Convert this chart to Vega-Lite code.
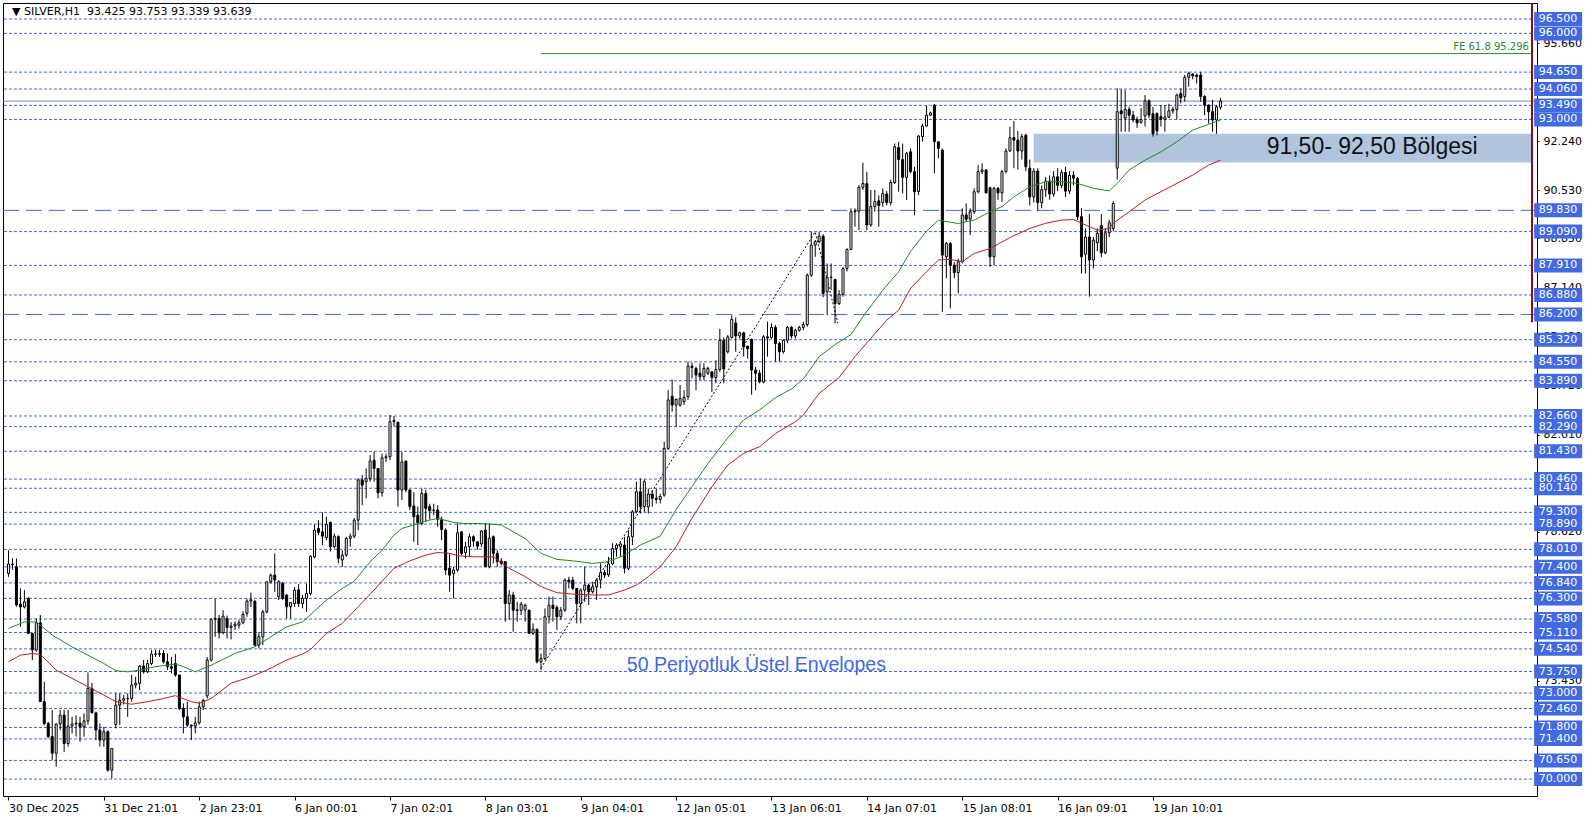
{
"$schema":"https://vega.github.io/schema/vega-lite/v6.json",
"width":1534,"height":793,
"autosize":{"type":"none"},
"padding":{"left":3,"top":3,"right":57,"bottom":24},
"background":"white",
"config":{"view":{"stroke":"black","strokeWidth":1},"font":"DejaVu Sans"},
"resolve":{"axis":{"x":"independent","y":"independent"}},
"datasets":{
"bars":[
{"i":0,"o":77.17,"h":77.98,"l":77.05,"c":77.5},{"i":1,"o":77.5,"h":77.7,"l":77.3,"c":77.48},{"i":2,"o":77.4,"h":77.69,"l":76.01,"c":76.07},{"i":3,"o":76.1,"h":76.65,"l":75.31,"c":76.0},{"i":4,"o":76.0,"h":76.59,"l":75.95,"c":76.18},
{"i":5,"o":76.3,"h":76.35,"l":75.08,"c":75.08},{"i":6,"o":75.08,"h":75.1,"l":74.15,"c":74.5},{"i":7,"o":74.5,"h":75.6,"l":74.44,"c":75.45},{"i":8,"o":75.45,"h":75.72,"l":72.7,"c":72.7},{"i":9,"o":72.7,"h":73.39,"l":71.88,"c":71.94},
{"i":10,"o":71.94,"h":72.0,"l":71.42,"c":71.48},{"i":11,"o":71.48,"h":72.41,"l":70.66,"c":70.9},{"i":12,"o":70.9,"h":71.94,"l":70.43,"c":71.92},{"i":13,"o":71.92,"h":72.41,"l":71.71,"c":72.23},{"i":14,"o":72.23,"h":72.41,"l":70.95,"c":71.24},
{"i":15,"o":71.24,"h":72.41,"l":71.13,"c":71.85},{"i":16,"o":71.85,"h":72.17,"l":71.59,"c":71.92},{"i":17,"o":71.92,"h":72.23,"l":71.48,"c":71.95},{"i":18,"o":71.95,"h":72.17,"l":71.3,"c":71.82},{"i":19,"o":71.82,"h":72.29,"l":71.48,"c":72.03},
{"i":20,"o":72.03,"h":73.72,"l":71.9,"c":73.16},{"i":21,"o":73.16,"h":73.36,"l":72.29,"c":72.31},{"i":22,"o":72.31,"h":72.35,"l":71.36,"c":71.71},{"i":23,"o":71.71,"h":71.94,"l":71.13,"c":71.36},{"i":24,"o":71.36,"h":71.82,"l":71.13,"c":71.65},
{"i":25,"o":71.65,"h":71.7,"l":70.26,"c":70.31},{"i":26,"o":70.31,"h":71.07,"l":70.02,"c":71.07},{"i":27,"o":71.9,"h":72.99,"l":71.77,"c":72.58},{"i":28,"o":72.58,"h":72.99,"l":71.88,"c":72.75},{"i":29,"o":72.75,"h":72.93,"l":72.6,"c":72.8},
{"i":30,"o":72.8,"h":72.99,"l":72.17,"c":72.81},{"i":31,"o":72.81,"h":73.63,"l":72.7,"c":73.28},{"i":32,"o":73.28,"h":73.57,"l":73.16,"c":73.34},{"i":33,"o":73.34,"h":73.97,"l":73.1,"c":73.94},{"i":34,"o":73.94,"h":74.15,"l":73.68,"c":73.74},
{"i":35,"o":73.74,"h":74.15,"l":73.7,"c":74.03},{"i":36,"o":74.03,"h":74.5,"l":73.97,"c":74.36},{"i":37,"o":74.36,"h":74.5,"l":74.26,"c":74.35},{"i":38,"o":74.35,"h":74.5,"l":74.26,"c":74.38},{"i":39,"o":74.38,"h":74.5,"l":74.03,"c":74.09},
{"i":40,"o":74.09,"h":74.38,"l":73.8,"c":73.92},{"i":41,"o":73.92,"h":74.26,"l":73.68,"c":73.86},{"i":42,"o":74.03,"h":74.36,"l":73.57,"c":73.63},{"i":43,"o":73.63,"h":73.63,"l":72.41,"c":72.46},{"i":44,"o":72.46,"h":72.64,"l":71.59,"c":72.17},
{"i":45,"o":72.17,"h":72.7,"l":71.82,"c":71.88},{"i":46,"o":71.88,"h":71.9,"l":71.36,"c":71.85},{"i":47,"o":71.85,"h":72.17,"l":71.6,"c":71.96},{"i":48,"o":71.96,"h":72.7,"l":71.9,"c":72.52},{"i":49,"o":72.52,"h":72.8,"l":72.41,"c":72.75},
{"i":50,"o":72.9,"h":74.26,"l":72.81,"c":74.15},{"i":51,"o":74.15,"h":75.6,"l":74.1,"c":75.57},{"i":52,"o":75.57,"h":76.28,"l":74.96,"c":75.6},{"i":53,"o":75.6,"h":75.72,"l":74.9,"c":75.1},{"i":54,"o":75.1,"h":75.89,"l":75.05,"c":75.68},
{"i":55,"o":75.6,"h":75.7,"l":74.9,"c":75.29},{"i":56,"o":75.29,"h":75.48,"l":74.87,"c":75.34},{"i":57,"o":75.34,"h":75.5,"l":75.2,"c":75.4},{"i":58,"o":75.37,"h":75.55,"l":75.25,"c":75.45},{"i":59,"o":75.45,"h":75.85,"l":75.4,"c":75.74},
{"i":60,"o":75.78,"h":76.28,"l":75.66,"c":76.21},{"i":61,"o":76.21,"h":76.5,"l":76.0,"c":76.25},{"i":62,"o":76.2,"h":76.25,"l":74.64,"c":74.67},{"i":63,"o":74.67,"h":75.12,"l":74.56,"c":74.96},{"i":64,"o":74.96,"h":75.9,"l":74.67,"c":75.83},
{"i":65,"o":75.83,"h":76.88,"l":75.78,"c":76.88},{"i":66,"o":76.88,"h":77.17,"l":76.82,"c":77.11},{"i":67,"o":77.11,"h":77.87,"l":76.53,"c":76.94},{"i":68,"o":76.36,"h":76.94,"l":76.24,"c":76.88},{"i":69,"o":76.82,"h":76.88,"l":76.24,"c":76.3},
{"i":70,"o":76.42,"h":76.42,"l":75.6,"c":76.01},{"i":71,"o":76.01,"h":76.18,"l":75.6,"c":76.15},{"i":72,"o":76.12,"h":76.7,"l":76.0,"c":76.59},{"i":73,"o":76.6,"h":76.8,"l":76.0,"c":76.12},{"i":74,"o":76.12,"h":76.42,"l":75.95,"c":76.3},
{"i":75,"o":76.3,"h":76.82,"l":75.83,"c":76.47},{"i":76,"o":76.47,"h":77.8,"l":76.4,"c":77.77},{"i":77,"o":77.75,"h":78.88,"l":77.7,"c":78.68},{"i":78,"o":78.74,"h":79.03,"l":78.5,"c":78.6},{"i":79,"o":78.62,"h":79.3,"l":78.16,"c":78.47},
{"i":80,"o":78.42,"h":79.15,"l":78.33,"c":78.88},{"i":81,"o":78.95,"h":78.97,"l":77.93,"c":78.1},{"i":82,"o":78.1,"h":78.56,"l":78.04,"c":78.47},{"i":83,"o":78.45,"h":78.5,"l":77.52,"c":77.69},{"i":84,"o":77.64,"h":77.98,"l":77.4,"c":77.81},
{"i":85,"o":77.81,"h":78.45,"l":77.75,"c":78.39},{"i":86,"o":78.39,"h":78.56,"l":78.1,"c":78.47},{"i":87,"o":78.47,"h":79.1,"l":78.4,"c":79.03},{"i":88,"o":79.03,"h":80.48,"l":78.68,"c":80.43},{"i":89,"o":80.43,"h":80.6,"l":79.55,"c":80.25},
{"i":90,"o":80.37,"h":80.83,"l":79.79,"c":80.48},{"i":91,"o":80.48,"h":81.3,"l":80.37,"c":81.09},{"i":92,"o":81.12,"h":81.41,"l":80.37,"c":80.83},{"i":93,"o":80.83,"h":80.83,"l":79.79,"c":79.98},{"i":94,"o":79.98,"h":81.35,"l":79.85,"c":81.2},
{"i":95,"o":81.2,"h":81.35,"l":81.05,"c":81.24},{"i":96,"o":81.24,"h":82.69,"l":81.12,"c":82.46},{"i":97,"o":82.46,"h":82.66,"l":82.31,"c":82.5},{"i":98,"o":82.44,"h":82.46,"l":79.5,"c":80.08},{"i":99,"o":80.08,"h":81.41,"l":79.73,"c":81.06},
{"i":100,"o":81.09,"h":81.1,"l":80.0,"c":80.08},{"i":101,"o":80.08,"h":80.1,"l":79.38,"c":79.5},{"i":102,"o":79.52,"h":80.0,"l":78.27,"c":79.15},{"i":103,"o":79.2,"h":79.5,"l":78.16,"c":78.94},{"i":104,"o":78.91,"h":80.13,"l":78.85,"c":79.96},
{"i":105,"o":79.96,"h":80.08,"l":78.97,"c":79.44},{"i":106,"o":79.5,"h":79.6,"l":79.05,"c":79.35},{"i":107,"o":79.38,"h":79.6,"l":79.2,"c":79.36},{"i":108,"o":79.38,"h":79.55,"l":78.8,"c":79.06},{"i":109,"o":79.06,"h":79.15,"l":78.33,"c":78.7},
{"i":110,"o":78.68,"h":78.74,"l":77.11,"c":77.29},{"i":111,"o":77.35,"h":77.87,"l":76.53,"c":77.11},{"i":112,"o":77.17,"h":77.4,"l":76.3,"c":77.29},{"i":113,"o":77.29,"h":78.91,"l":77.23,"c":78.59},{"i":114,"o":78.62,"h":78.65,"l":77.81,"c":77.87},
{"i":115,"o":77.9,"h":78.27,"l":77.7,"c":78.1},{"i":116,"o":78.1,"h":78.56,"l":77.75,"c":78.45},{"i":117,"o":78.45,"h":78.5,"l":78.1,"c":78.3},{"i":118,"o":78.27,"h":78.3,"l":78.0,"c":78.12},{"i":119,"o":78.2,"h":78.68,"l":78.1,"c":78.65},
{"i":120,"o":78.68,"h":78.91,"l":77.4,"c":77.4},{"i":121,"o":77.4,"h":78.91,"l":77.35,"c":78.4},{"i":122,"o":78.45,"h":78.5,"l":77.52,"c":77.87},{"i":123,"o":77.87,"h":77.98,"l":77.4,"c":77.58},{"i":124,"o":77.6,"h":77.7,"l":77.45,"c":77.52},
{"i":125,"o":77.58,"h":77.6,"l":75.49,"c":76.12},{"i":126,"o":76.12,"h":76.59,"l":75.55,"c":76.42},{"i":127,"o":76.42,"h":76.53,"l":75.14,"c":75.89},{"i":128,"o":75.9,"h":76.18,"l":75.49,"c":75.88},{"i":129,"o":75.88,"h":76.18,"l":75.72,"c":76.1},
{"i":130,"o":75.9,"h":76.12,"l":75.49,"c":76.06},{"i":131,"o":75.89,"h":75.9,"l":75.08,"c":75.08},{"i":132,"o":75.08,"h":75.43,"l":75.02,"c":75.22},{"i":133,"o":75.22,"h":75.25,"l":74.03,"c":74.09},{"i":134,"o":74.09,"h":74.38,"l":73.8,"c":74.2},
{"i":135,"o":74.2,"h":75.95,"l":74.15,"c":75.66},{"i":136,"o":75.66,"h":76.36,"l":75.43,"c":76.06},{"i":137,"o":76.06,"h":76.36,"l":75.49,"c":75.95},{"i":138,"o":75.99,"h":76.06,"l":75.2,"c":75.66},{"i":139,"o":75.66,"h":76.0,"l":75.55,"c":75.89},
{"i":140,"o":75.89,"h":77.0,"l":75.83,"c":76.94},{"i":141,"o":76.94,"h":77.05,"l":76.65,"c":76.88},{"i":142,"o":76.94,"h":77.05,"l":76.59,"c":76.65},{"i":143,"o":76.65,"h":76.65,"l":75.43,"c":76.12},{"i":144,"o":76.12,"h":76.65,"l":75.43,"c":76.59},
{"i":145,"o":76.59,"h":77.4,"l":76.18,"c":76.76},{"i":146,"o":76.76,"h":76.82,"l":76.07,"c":76.53},{"i":147,"o":76.53,"h":76.88,"l":76.47,"c":76.7},{"i":148,"o":76.7,"h":77.0,"l":76.24,"c":76.94},{"i":149,"o":76.94,"h":77.52,"l":76.65,"c":77.2},
{"i":150,"o":77.2,"h":77.29,"l":77.0,"c":77.12},{"i":151,"o":77.12,"h":77.75,"l":77.05,"c":77.5},{"i":152,"o":77.5,"h":78.22,"l":77.46,"c":78.04},{"i":153,"o":78.04,"h":78.22,"l":77.75,"c":78.16},{"i":154,"o":78.1,"h":78.25,"l":77.75,"c":78.2},
{"i":155,"o":78.16,"h":78.45,"l":77.17,"c":77.35},{"i":156,"o":77.35,"h":78.68,"l":77.29,"c":78.45},{"i":157,"o":78.45,"h":79.38,"l":78.16,"c":79.32},{"i":158,"o":79.32,"h":80.37,"l":79.26,"c":80.02},{"i":159,"o":80.02,"h":80.48,"l":79.26,"c":79.5},
{"i":160,"o":79.5,"h":80.45,"l":79.3,"c":80.37},{"i":161,"o":79.49,"h":80.13,"l":79.26,"c":79.94},{"i":162,"o":79.94,"h":80.08,"l":79.5,"c":79.79},{"i":163,"o":79.79,"h":80.13,"l":79.61,"c":79.75},{"i":164,"o":79.75,"h":79.94,"l":79.61,"c":79.85},
{"i":165,"o":79.9,"h":81.76,"l":79.85,"c":81.53},{"i":166,"o":81.53,"h":83.56,"l":81.47,"c":83.22},{"i":167,"o":83.35,"h":83.93,"l":82.81,"c":83.04},{"i":168,"o":83.04,"h":83.27,"l":82.29,"c":83.24},{"i":169,"o":83.04,"h":83.74,"l":82.98,"c":83.27},
{"i":170,"o":83.16,"h":83.56,"l":83.04,"c":83.31},{"i":171,"o":83.33,"h":84.55,"l":83.22,"c":84.4},{"i":172,"o":84.4,"h":84.52,"l":83.97,"c":84.35},{"i":173,"o":84.32,"h":84.38,"l":83.56,"c":84.09},{"i":174,"o":84.15,"h":84.5,"l":83.91,"c":84.03},
{"i":175,"o":84.03,"h":84.5,"l":83.91,"c":84.32},{"i":176,"o":84.15,"h":84.38,"l":84.09,"c":84.32},{"i":177,"o":84.2,"h":84.2,"l":83.5,"c":84.0},{"i":178,"o":84.0,"h":84.6,"l":83.8,"c":84.28},{"i":179,"o":84.28,"h":85.7,"l":84.2,"c":85.3},
{"i":180,"o":85.3,"h":85.4,"l":83.8,"c":84.3},{"i":181,"o":84.9,"h":85.48,"l":84.84,"c":85.42},{"i":182,"o":85.4,"h":86.17,"l":85.36,"c":86.03},{"i":183,"o":85.9,"h":86.1,"l":84.9,"c":85.45},{"i":184,"o":85.45,"h":85.6,"l":85.36,"c":85.56},
{"i":185,"o":85.56,"h":85.6,"l":84.73,"c":85.07},{"i":186,"o":85.1,"h":85.1,"l":84.66,"c":85.0},{"i":187,"o":85.33,"h":85.36,"l":83.4,"c":84.26},{"i":188,"o":84.26,"h":84.38,"l":83.56,"c":84.15},{"i":189,"o":84.15,"h":84.26,"l":83.8,"c":83.85},
{"i":190,"o":83.85,"h":85.48,"l":83.8,"c":85.42},{"i":191,"o":85.42,"h":85.95,"l":84.73,"c":85.38},{"i":192,"o":85.4,"h":85.89,"l":85.36,"c":85.75},{"i":193,"o":85.75,"h":85.83,"l":84.55,"c":85.19},{"i":194,"o":85.19,"h":85.25,"l":84.55,"c":84.9},
{"i":195,"o":84.9,"h":85.33,"l":84.84,"c":85.3},{"i":196,"o":85.3,"h":85.8,"l":85.2,"c":85.75},{"i":197,"o":85.75,"h":85.8,"l":85.36,"c":85.45},{"i":198,"o":85.45,"h":85.7,"l":85.36,"c":85.65},{"i":199,"o":85.65,"h":85.8,"l":85.6,"c":85.75},
{"i":200,"o":85.75,"h":85.95,"l":85.65,"c":85.85},{"i":201,"o":85.85,"h":87.63,"l":85.77,"c":87.57},{"i":202,"o":87.57,"h":89.08,"l":87.51,"c":88.62},{"i":203,"o":88.62,"h":88.8,"l":88.21,"c":88.74},{"i":204,"o":88.74,"h":89.08,"l":88.68,"c":88.93},
{"i":205,"o":88.93,"h":89.0,"l":86.8,"c":86.93},{"i":206,"o":86.99,"h":87.98,"l":86.17,"c":87.49},{"i":207,"o":87.49,"h":87.98,"l":87.05,"c":87.5},{"i":208,"o":87.42,"h":87.45,"l":85.89,"c":86.58},{"i":209,"o":86.58,"h":87.05,"l":86.53,"c":86.9},
{"i":210,"o":86.9,"h":87.86,"l":86.82,"c":87.8},{"i":211,"o":87.8,"h":88.5,"l":87.7,"c":88.47},{"i":212,"o":88.47,"h":89.9,"l":88.44,"c":89.78},{"i":213,"o":89.78,"h":89.9,"l":89.26,"c":89.8},{"i":214,"o":89.8,"h":90.71,"l":89.14,"c":90.63},
{"i":215,"o":90.63,"h":91.49,"l":90.54,"c":90.77},{"i":216,"o":90.77,"h":91.17,"l":89.14,"c":89.32},{"i":217,"o":89.32,"h":90.54,"l":89.26,"c":89.96},{"i":218,"o":89.96,"h":90.54,"l":89.78,"c":90.13},{"i":219,"o":90.16,"h":90.35,"l":89.26,"c":90.0},
{"i":220,"o":90.1,"h":90.6,"l":89.96,"c":90.42},{"i":221,"o":90.4,"h":90.5,"l":90.0,"c":90.1},{"i":222,"o":90.1,"h":90.9,"l":90.0,"c":90.8},{"i":223,"o":90.8,"h":92.16,"l":90.75,"c":92.05},{"i":224,"o":92.02,"h":92.22,"l":90.48,"c":91.6},
{"i":225,"o":91.6,"h":92.16,"l":90.42,"c":90.98},{"i":226,"o":90.98,"h":91.87,"l":90.19,"c":91.82},{"i":227,"o":91.87,"h":91.99,"l":91.12,"c":91.18},{"i":228,"o":91.18,"h":91.35,"l":89.66,"c":90.48},{"i":229,"o":90.48,"h":92.45,"l":90.36,"c":92.42},
{"i":230,"o":92.4,"h":92.86,"l":92.22,"c":92.77},{"i":231,"o":92.77,"h":93.47,"l":92.75,"c":93.15},{"i":232,"o":93.15,"h":93.27,"l":93.12,"c":93.23},{"i":233,"o":93.5,"h":93.54,"l":91.12,"c":92.22},{"i":234,"o":92.22,"h":92.22,"l":91.64,"c":91.99},
{"i":235,"o":91.93,"h":91.99,"l":86.29,"c":88.27},{"i":236,"o":88.21,"h":88.73,"l":87.46,"c":88.68},{"i":237,"o":88.68,"h":88.73,"l":86.41,"c":87.92},{"i":238,"o":87.92,"h":88.03,"l":87.46,"c":87.66},{"i":239,"o":87.66,"h":88.15,"l":86.93,"c":88.04},
{"i":240,"o":88.04,"h":89.9,"l":87.98,"c":89.67},{"i":241,"o":89.67,"h":90.07,"l":89.43,"c":89.52},{"i":242,"o":89.52,"h":89.9,"l":88.97,"c":89.78},{"i":243,"o":89.78,"h":90.6,"l":89.7,"c":90.48},{"i":244,"o":90.48,"h":91.41,"l":90.42,"c":91.18},
{"i":245,"o":91.18,"h":91.47,"l":91.1,"c":91.24},{"i":246,"o":91.24,"h":91.26,"l":90.42,"c":90.44},{"i":247,"o":90.62,"h":90.65,"l":87.86,"c":88.21},{"i":248,"o":88.21,"h":90.65,"l":87.92,"c":90.6},{"i":249,"o":90.6,"h":90.65,"l":90.2,"c":90.44},
{"i":250,"o":90.44,"h":91.24,"l":90.13,"c":91.18},{"i":251,"o":91.18,"h":91.99,"l":91.12,"c":91.9},{"i":252,"o":91.9,"h":92.75,"l":91.87,"c":92.36},{"i":253,"o":92.37,"h":92.95,"l":91.3,"c":92.28},{"i":254,"o":92.28,"h":92.6,"l":91.25,"c":91.9},
{"i":255,"o":91.9,"h":92.5,"l":91.6,"c":92.4},{"i":256,"o":92.45,"h":92.5,"l":91.2,"c":91.35},{"i":257,"o":91.3,"h":91.6,"l":90.0,"c":90.3},{"i":258,"o":90.3,"h":91.3,"l":90.1,"c":91.2},{"i":259,"o":91.2,"h":91.3,"l":89.8,"c":90.1},
{"i":260,"o":90.1,"h":90.7,"l":89.9,"c":90.55},{"i":261,"o":90.55,"h":91.0,"l":90.3,"c":90.85},{"i":262,"o":90.85,"h":91.05,"l":90.2,"c":90.4},{"i":263,"o":90.4,"h":91.2,"l":90.3,"c":91.0},{"i":264,"o":91.0,"h":91.3,"l":90.5,"c":90.7},
{"i":265,"o":90.7,"h":91.25,"l":90.6,"c":91.15},{"i":266,"o":91.15,"h":91.35,"l":90.3,"c":90.5},{"i":267,"o":90.5,"h":91.2,"l":90.4,"c":91.05},{"i":268,"o":91.05,"h":91.2,"l":90.7,"c":90.95},{"i":269,"o":90.94,"h":91.0,"l":89.5,"c":89.61},
{"i":270,"o":89.61,"h":89.9,"l":87.63,"c":88.21},{"i":271,"o":88.3,"h":89.2,"l":87.63,"c":88.9},{"i":272,"o":88.9,"h":89.7,"l":86.82,"c":88.1},{"i":273,"o":88.1,"h":88.9,"l":87.8,"c":88.79},{"i":274,"o":88.7,"h":89.2,"l":88.4,"c":89.03},
{"i":275,"o":89.3,"h":89.7,"l":88.2,"c":88.35},{"i":276,"o":88.35,"h":89.2,"l":88.3,"c":89.05},{"i":277,"o":89.05,"h":89.5,"l":88.9,"c":89.4},{"i":278,"o":89.2,"h":90.15,"l":89.1,"c":90.07},{"i":279,"o":91.3,"h":94.08,"l":90.9,"c":93.27},
{"i":280,"o":93.3,"h":94.05,"l":92.57,"c":93.2},{"i":281,"o":93.05,"h":94.02,"l":92.57,"c":93.35},{"i":282,"o":93.35,"h":93.44,"l":92.57,"c":93.15},{"i":283,"o":93.15,"h":93.3,"l":92.9,"c":92.98},{"i":284,"o":93.0,"h":93.1,"l":92.7,"c":92.88},
{"i":285,"o":92.9,"h":93.4,"l":92.85,"c":93.0},{"i":286,"o":93.12,"h":93.85,"l":92.75,"c":93.65},{"i":287,"o":93.65,"h":93.7,"l":93.05,"c":93.15},{"i":288,"o":93.2,"h":93.44,"l":92.4,"c":92.5},{"i":289,"o":93.2,"h":93.25,"l":92.45,"c":92.6},
{"i":290,"o":93.1,"h":93.5,"l":92.75,"c":93.0},{"i":291,"o":93.0,"h":93.5,"l":92.57,"c":93.08},{"i":292,"o":93.08,"h":93.55,"l":93.05,"c":93.3},{"i":293,"o":93.3,"h":93.45,"l":93.2,"c":93.35},{"i":294,"o":93.35,"h":93.9,"l":93.0,"c":93.85},
{"i":295,"o":93.9,"h":94.08,"l":93.56,"c":93.75},{"i":296,"o":93.8,"h":94.55,"l":93.62,"c":94.47},{"i":297,"o":94.47,"h":94.66,"l":94.14,"c":94.6},{"i":298,"o":94.58,"h":94.62,"l":94.4,"c":94.52},{"i":299,"o":94.55,"h":94.6,"l":94.25,"c":94.5},
{"i":300,"o":94.55,"h":94.66,"l":93.62,"c":93.8},{"i":301,"o":93.8,"h":93.85,"l":93.15,"c":93.5},{"i":302,"o":93.5,"h":93.52,"l":92.86,"c":93.27},{"i":303,"o":93.27,"h":93.68,"l":92.57,"c":92.98},{"i":304,"o":92.98,"h":93.5,"l":92.5,"c":93.44},
{"i":305,"o":93.425,"h":93.753,"l":93.339,"c":93.639}
],
"g":[{"i":0,"p":75.25},{"i":4,"p":75.48},{"i":7,"p":75.48},{"i":8,"p":75.37},{"i":11,"p":75.02},{"i":16,"p":74.61},{"i":20,"p":74.32},{"i":24,"p":74.03},{"i":27,"p":73.78},{"i":30,"p":73.74},{"i":33,"p":73.8},{"i":37,"p":73.92},{"i":42,"p":74.01},{"i":44,"p":73.92},{"i":47,"p":73.74},{"i":51,"p":73.97},{"i":57,"p":74.38},{"i":62,"p":74.61},{"i":66,"p":74.96},{"i":70,"p":75.31},{"i":74,"p":75.48},{"i":80,"p":76.24},{"i":84,"p":76.65},{"i":87,"p":76.9},{"i":91,"p":77.58},{"i":94,"p":77.98},{"i":97,"p":78.51},{"i":99,"p":78.74},{"i":102,"p":78.86},{"i":105,"p":79.0},{"i":108,"p":79.09},{"i":112,"p":78.95},{"i":115,"p":78.91},{"i":119,"p":78.91},{"i":124,"p":78.86},{"i":130,"p":78.39},{"i":134,"p":77.87},{"i":138,"p":77.66},{"i":142,"p":77.61},{"i":147,"p":77.52},{"i":151,"p":77.58},{"i":155,"p":77.81},{"i":159,"p":78.16},{"i":164,"p":78.47},{"i":168,"p":79.4},{"i":172,"p":80.2},{"i":176,"p":81.0},{"i":181,"p":81.9},{"i":185,"p":82.52},{"i":189,"p":82.87},{"i":193,"p":83.3},{"i":197,"p":83.6},{"i":200,"p":83.95},{"i":204,"p":84.73},{"i":208,"p":85.15},{"i":212,"p":85.5},{"i":215,"p":86.12},{"i":220,"p":87.05},{"i":224,"p":87.69},{"i":227,"p":88.4},{"i":231,"p":89.1},{"i":234,"p":89.49},{"i":239,"p":89.37},{"i":243,"p":89.49},{"i":247,"p":89.78},{"i":250,"p":89.96},{"i":253,"p":90.3},{"i":257,"p":90.65},{"i":261,"p":90.83},{"i":265,"p":90.83},{"i":269,"p":90.77},{"i":273,"p":90.6},{"i":277,"p":90.51},{"i":279,"p":90.77},{"i":282,"p":91.24},{"i":286,"p":91.58},{"i":290,"p":91.87},{"i":294,"p":92.22},{"i":298,"p":92.63},{"i":302,"p":92.83},{"i":305,"p":92.98}],
"r":[{"i":0,"p":74.09},{"i":3,"p":74.32},{"i":6,"p":74.38},{"i":8,"p":74.35},{"i":12,"p":73.8},{"i":16,"p":73.51},{"i":20,"p":73.22},{"i":24,"p":72.93},{"i":27,"p":72.7},{"i":31,"p":72.61},{"i":35,"p":72.7},{"i":39,"p":72.81},{"i":42,"p":72.91},{"i":46,"p":72.7},{"i":48,"p":72.64},{"i":51,"p":72.81},{"i":56,"p":73.34},{"i":61,"p":73.57},{"i":65,"p":73.8},{"i":70,"p":74.15},{"i":74,"p":74.36},{"i":76,"p":74.52},{"i":80,"p":75.08},{"i":84,"p":75.43},{"i":88,"p":76.01},{"i":92,"p":76.59},{"i":97,"p":77.35},{"i":101,"p":77.61},{"i":105,"p":77.81},{"i":108,"p":77.9},{"i":111,"p":77.87},{"i":113,"p":77.79},{"i":117,"p":77.75},{"i":122,"p":77.75},{"i":126,"p":77.35},{"i":130,"p":77.06},{"i":134,"p":76.71},{"i":138,"p":76.5},{"i":142,"p":76.45},{"i":147,"p":76.42},{"i":151,"p":76.42},{"i":155,"p":76.59},{"i":158,"p":76.76},{"i":161,"p":77.06},{"i":164,"p":77.4},{"i":168,"p":78.1},{"i":172,"p":79.1},{"i":177,"p":80.19},{"i":181,"p":80.95},{"i":185,"p":81.36},{"i":189,"p":81.59},{"i":193,"p":82.05},{"i":198,"p":82.46},{"i":200,"p":82.69},{"i":204,"p":83.45},{"i":209,"p":84.0},{"i":213,"p":84.73},{"i":217,"p":85.37},{"i":221,"p":86.0},{"i":224,"p":86.35},{"i":227,"p":87.11},{"i":231,"p":87.69},{"i":234,"p":88.1},{"i":237,"p":88.12},{"i":240,"p":88.04},{"i":243,"p":88.33},{"i":247,"p":88.5},{"i":252,"p":88.88},{"i":257,"p":89.2},{"i":261,"p":89.38},{"i":265,"p":89.49},{"i":268,"p":89.51},{"i":272,"p":89.26},{"i":274,"p":89.14},{"i":277,"p":89.2},{"i":278,"p":89.38},{"i":282,"p":89.78},{"i":286,"p":90.19},{"i":290,"p":90.48},{"i":294,"p":90.77},{"i":298,"p":91.06},{"i":302,"p":91.41},{"i":305,"p":91.58}],
"tr":[{"i":134,"p":73.87},{"i":203,"p":89.08},{"i":208.7,"p":85.9}],
"lv":[{"p":96.5},{"p":96.0},{"p":94.65},{"p":94.06},{"p":93.49},{"p":93.0},{"p":89.09},{"p":87.91},{"p":86.88},{"p":85.32},{"p":84.55},{"p":83.89},{"p":82.66},{"p":82.29},{"p":81.43},{"p":80.46},{"p":80.14},{"p":79.3},{"p":78.89},{"p":78.01},{"p":77.4},{"p":76.84},{"p":76.3},{"p":75.58},{"p":75.11},{"p":74.54},{"p":73.75},{"p":73.0},{"p":72.46},{"p":71.8},{"p":71.4},{"p":70.65},{"p":70.0}],
"ll":[{"p":89.83},{"p":86.2}],
"lb":[{"p":96.5},{"p":96.0},{"p":94.65},{"p":94.06},{"p":93.49},{"p":93.0},{"p":89.83},{"p":89.09},{"p":87.91},{"p":86.88},{"p":86.2},{"p":85.32},{"p":84.55},{"p":83.89},{"p":82.66},{"p":82.29},{"p":81.43},{"p":80.46},{"p":80.14},{"p":79.3},{"p":78.89},{"p":78.01},{"p":77.4},{"p":76.84},{"p":76.3},{"p":75.58},{"p":75.11},{"p":74.54},{"p":73.75},{"p":73.0},{"p":72.46},{"p":71.8},{"p":71.4},{"p":70.65},{"p":70.0}]
},
"layer":[
{"data":{"values":[{}]},"mark":{"type":"rect","color":"#B0C4DE"},
 "encoding":{"x":{"datum":258,"type":"quantitative","scale":{"domain":[-0.125,383.375],"nice":false,"zero":false},"axis":null},"x2":{"datum":383.375},
 "y":{"datum":92.5,"type":"quantitative","scale":{"domain":[69.41,97.06],"nice":false,"zero":false},"axis":null},"y2":{"datum":91.5}}},
{"data":{"name":"lv"},"mark":{"type":"rule","color":"#4169E1","strokeWidth":1,"strokeDash":[3,2]},
 "encoding":{"y":{"field":"p","type":"quantitative","scale":{"domain":[69.41,97.06],"nice":false,"zero":false},"axis":null}}},
{"data":{"name":"ll"},"mark":{"type":"rule","color":"#4169E1","strokeWidth":1,"strokeDash":[16,7]},
 "encoding":{"y":{"field":"p","type":"quantitative","scale":{"domain":[69.41,97.06],"nice":false,"zero":false},"axis":null}}},
{"data":{"values":[{}]},"mark":{"type":"rule","color":"#778899","strokeWidth":1},
 "encoding":{"y":{"datum":93.639,"type":"quantitative","scale":{"domain":[69.41,97.06],"nice":false,"zero":false},"axis":null}}},
{"data":{"values":[{}]},"mark":{"type":"rule","color":"#2E8B2E","strokeWidth":1},
 "encoding":{"x":{"datum":134,"type":"quantitative","scale":{"domain":[-0.125,383.375],"nice":false,"zero":false},"axis":null},"x2":{"datum":383.375},
 "y":{"datum":95.296,"type":"quantitative","scale":{"domain":[69.41,97.06],"nice":false,"zero":false},"axis":null}}},
{"data":{"name":"tr"},"mark":{"type":"line","color":"black","strokeWidth":1,"strokeDash":[2,2]},
 "encoding":{"x":{"field":"i","type":"quantitative","scale":{"domain":[-0.125,383.375],"nice":false,"zero":false},"axis":null},
 "y":{"field":"p","type":"quantitative","scale":{"domain":[69.41,97.06],"nice":false,"zero":false},"axis":null}}},
{"data":{"name":"bars"},"mark":{"type":"rule","color":"black","strokeWidth":1},
 "encoding":{
  "x":{"field":"i","type":"quantitative","scale":{"domain":[-0.125,383.375],"nice":false,"zero":false},
   "axis":{"values":[0,24,48,72,96,120,144,168,192,216,240,264,288],
    "labelExpr":"['30 Dec 2025','31 Dec 21:01','2 Jan 23:01','6 Jan 00:01','7 Jan 02:01','8 Jan 03:01','9 Jan 04:01','12 Jan 05:01','13 Jan 06:01','14 Jan 07:01','15 Jan 08:01','16 Jan 09:01','19 Jan 10:01'][round(datum.value/24)]",
    "labelAlign":"left","labelBaseline":"top","labelPadding":2,"tickSize":4,"tickColor":"black","domain":false,"grid":false,"title":null,
    "labelFont":"DejaVu Sans","labelFontSize":11,"labelColor":"black","labelFlush":false,"labelOverlap":false,"labelBound":false}},
  "y":{"field":"l","type":"quantitative","scale":{"domain":[69.41,97.06],"nice":false,"zero":false},
   "axis":{"orient":"right","values":[95.66,93.95,92.24,90.53,88.85,87.14,85.43,83.72,82.01,80.3,78.62,76.91,75.2,73.43,71.72],"format":".3f",
    "tickSize":2,"tickColor":"black","labelPadding":4,"domain":false,"grid":false,"title":null,
    "labelFont":"DejaVu Sans","labelFontSize":11,"labelColor":"black","labelOverlap":false,"labelFlush":false,"labelBound":false}},
  "y2":{"field":"h"}}},
{"data":{"name":"bars"},"mark":{"type":"bar","width":2,"stroke":"black","strokeWidth":1},
 "encoding":{"x":{"field":"i","type":"quantitative","scale":{"domain":[-0.125,383.375],"nice":false,"zero":false},"axis":null},
  "y":{"field":"o","type":"quantitative","scale":{"domain":[69.41,97.06],"nice":false,"zero":false},"axis":null},"y2":{"field":"c"},
  "fill":{"condition":{"test":"datum.c >= datum.o","value":"white"},"value":"black"}}},
{"data":{"name":"g"},"mark":{"type":"line","color":"#1E8C1E","strokeWidth":1},
 "encoding":{"x":{"field":"i","type":"quantitative","scale":{"domain":[-0.125,383.375],"nice":false,"zero":false},"axis":null},
 "y":{"field":"p","type":"quantitative","scale":{"domain":[69.41,97.06],"nice":false,"zero":false},"axis":null}}},
{"data":{"name":"r"},"mark":{"type":"line","color":"#B22222","strokeWidth":1},
 "encoding":{"x":{"field":"i","type":"quantitative","scale":{"domain":[-0.125,383.375],"nice":false,"zero":false},"axis":null},
 "y":{"field":"p","type":"quantitative","scale":{"domain":[69.41,97.06],"nice":false,"zero":false},"axis":null}}},
{"data":{"values":[{"t":"91,50- 92,50 Bölgesi"}]},"mark":{"type":"text","align":"left","baseline":"alphabetic","font":"Liberation Sans","fontSize":23,"color":"#111111"},
 "encoding":{"x":{"datum":316.6,"type":"quantitative","scale":{"domain":[-0.125,383.375],"nice":false,"zero":false},"axis":null},
 "y":{"datum":91.78,"type":"quantitative","scale":{"domain":[69.41,97.06],"nice":false,"zero":false},"axis":null},"text":{"field":"t"}}},
{"data":{"values":[{"t":"50 Periyotluk Üstel Envelopes"}]},"mark":{"type":"text","align":"left","baseline":"alphabetic","font":"Liberation Sans","fontSize":19.5,"color":"#4169E1"},
 "encoding":{"x":{"datum":155.6,"type":"quantitative","scale":{"domain":[-0.125,383.375],"nice":false,"zero":false},"axis":null},
 "y":{"datum":73.78,"type":"quantitative","scale":{"domain":[69.41,97.06],"nice":false,"zero":false},"axis":null},"text":{"field":"t"}}},
{"data":{"values":[{"t":"FE 61.8 95.296"}]},"mark":{"type":"text","align":"right","baseline":"alphabetic","font":"DejaVu Sans","fontSize":10,"color":"#2E8B2E"},
 "encoding":{"x":{"datum":382.6,"type":"quantitative","scale":{"domain":[-0.125,383.375],"nice":false,"zero":false},"axis":null},
 "y":{"datum":95.42,"type":"quantitative","scale":{"domain":[69.41,97.06],"nice":false,"zero":false},"axis":null},"text":{"field":"t"}}},
{"data":{"values":[{"t":"▼ SILVER,H1\u00a0 93.425 93.753 93.339 93.639"}]},"mark":{"type":"text","align":"left","baseline":"middle","font":"DejaVu Sans","fontSize":11,"color":"black"},
 "encoding":{"x":{"datum":0.9,"type":"quantitative","scale":{"domain":[-0.125,383.375],"nice":false,"zero":false},"axis":null},
 "y":{"datum":96.73,"type":"quantitative","scale":{"domain":[69.41,97.06],"nice":false,"zero":false},"axis":null},"text":{"field":"t"}}},
{"data":{"name":"lb"},"mark":{"type":"tick","orient":"horizontal","size":48,"thickness":14,"color":"#4169E1","opacity":1},
 "encoding":{"x":{"datum":389.95,"type":"quantitative","scale":{"domain":[-0.125,383.375],"nice":false,"zero":false},"axis":null},
 "y":{"field":"p","type":"quantitative","scale":{"domain":[69.41,97.06],"nice":false,"zero":false},"axis":null}}},
{"data":{"name":"lb"},"mark":{"type":"text","align":"left","baseline":"middle","font":"DejaVu Sans","fontSize":11,"color":"white"},
 "encoding":{"x":{"datum":385.1,"type":"quantitative","scale":{"domain":[-0.125,383.375],"nice":false,"zero":false},"axis":null},
 "y":{"field":"p","type":"quantitative","scale":{"domain":[69.41,97.06],"nice":false,"zero":false},"axis":null},
 "text":{"field":"p","type":"quantitative","format":".3f"}}},
{"data":{"values":[{}]},"mark":{"type":"rule","color":"#8B1010","strokeWidth":2},
 "encoding":{"x":{"datum":383.375,"type":"quantitative","scale":{"domain":[-0.125,383.375],"nice":false,"zero":false},"axis":null},
 "y":{"datum":97.06,"type":"quantitative","scale":{"domain":[69.41,97.06],"nice":false,"zero":false},"axis":null},"y2":{"datum":85.93}}}
]
}
